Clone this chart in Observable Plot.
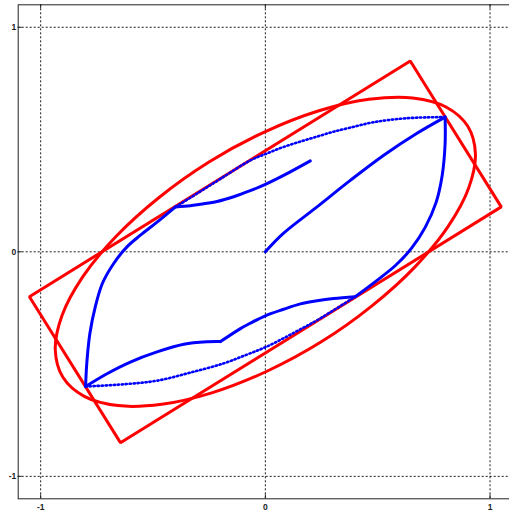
<!DOCTYPE html>
<html>
<head>
<meta charset="utf-8">
<script src="https://cdn.jsdelivr.net/npm/d3@7"></script>
<script src="https://cdn.jsdelivr.net/npm/@observablehq/plot@0.6"></script>
<style>
  html, body { margin: 0; padding: 0; background: #fff; overflow: hidden; }
  #chart svg { display: block; }
</style>
</head>
<body>
<div id="chart"></div>
<script>
// Tick values
const xTicks = [-1, 0, 1];
const yTicks = [-1, 0, 1];

// Red bounding rectangle (corners)
const rectX = [0.645, 1.05, -0.645, -1.05];
const rectY = [0.85, 0.2, -0.85, -0.2];

// Red enclosing ellipse (points read around the outline)
const ellX = [0.901, 0.806, 0.656, 0.461, 0.235, -0.007, -0.249, -0.473, -0.666, -0.813, -0.905, -0.935,
              -0.901, -0.806, -0.656, -0.461, -0.235, 0.007, 0.249, 0.473, 0.666, 0.813, 0.905, 0.935];
const ellY = [0.559, 0.644, 0.685, 0.679, 0.627, 0.532, 0.401, 0.242, 0.067, -0.112, -0.284, -0.436,
              -0.559, -0.644, -0.685, -0.679, -0.627, -0.532, -0.401, -0.242, -0.067, 0.112, 0.284, 0.436];

// Blue solid curves (each piece between kinks)
const c1X = [0, 0.08, 0.23, 0.378, 0.527, 0.675, 0.8];
const c1Y = [0, 0.082, 0.2, 0.318, 0.43, 0.528, 0.6];

const c2aX = [0.8, 0.8, 0.787, 0.76, 0.712, 0.65, 0.58, 0.5, 0.4];
const c2aY = [0.6, 0.48, 0.34, 0.22, 0.11, 0.015, -0.06, -0.125, -0.2];

const c2bX = [0.4, 0.304, 0.23, 0.156, 0.081, 0, -0.067, -0.111, -0.2];
const c2bY = [-0.2, -0.208, -0.218, -0.232, -0.256, -0.285, -0.318, -0.342, -0.4];

const c2cX = [-0.2, -0.26, -0.363, -0.482, -0.601, -0.705, -0.8];
const c2cY = [-0.4, -0.401, -0.412, -0.446, -0.491, -0.543, -0.6];

const c3aX = [-0.8, -0.795, -0.781, -0.757, -0.725, -0.675, -0.616, -0.556, -0.482, -0.4];
const c3aY = [-0.6, -0.5, -0.364, -0.245, -0.14, -0.052, 0.022, 0.074, 0.132, 0.2];

const c3bX = [-0.4, -0.334, -0.289, -0.215, -0.141, -0.067, 0, 0.081, 0.2];
const c3bY = [0.2, 0.205, 0.212, 0.224, 0.245, 0.272, 0.3, 0.34, 0.405];

// Blue dotted hull arcs
const dUpX = [-0.4, -0.3, -0.2, -0.067, 0.007, 0.081, 0.156, 0.23, 0.304, 0.378, 0.482, 0.631, 0.8];
const dUpY = [0.2, 0.262, 0.325, 0.407, 0.438, 0.467, 0.491, 0.513, 0.535, 0.553, 0.577, 0.595, 0.6];

const dLoX = [-0.8, -0.631, -0.482, -0.334, -0.186, -0.08, 0, 0.081, 0.156, 0.23, 0.4];
const dLoY = [-0.6, -0.59, -0.574, -0.538, -0.497, -0.457, -0.425, -0.385, -0.345, -0.305, -0.2];

const pts = (xs, ys) => xs.map((x, i) => ({x, y: ys[i]}));

const W = 509, H = 515;
const mL = 17.7, mT = 4.3, mB = 16.7, mR = -3;
const frameW = W - mL - mR, frameH = H - mT - mB;

const red = "#ff0000", blue = "#0000ff";
const lw = 3;

const chart = Plot.plot({
  width: W,
  height: H,
  marginLeft: mL,
  marginRight: mR,
  marginTop: mT,
  marginBottom: mB,
  style: {fontFamily: "'Liberation Sans', Arial, sans-serif", background: "#fff", overflow: "visible"},
  x: {domain: [-1.1, 1.1], range: [mL, W - mR]},
  y: {domain: [-1.1, 1.1], range: [H - mB, mT]},
  marks: [
    Plot.gridX(xTicks, {stroke: "#000", strokeOpacity: 0.9, strokeWidth: 1, strokeDasharray: "2,2"}),
    Plot.gridY(yTicks, {stroke: "#000", strokeOpacity: 0.9, strokeWidth: 1, strokeDasharray: "2,2"}),
    Plot.frame({stroke: "#222", strokeWidth: 1}),
    // inward tick marks
    Plot.tickX(xTicks, {x: d => d, stroke: "#222", insetTop: frameH - 4}),
    Plot.tickX(xTicks, {x: d => d, stroke: "#222", insetBottom: frameH - 4}),
    Plot.tickY(yTicks, {y: d => d, stroke: "#222", insetRight: frameW - 4}),
    Plot.axisX(xTicks, {anchor: "bottom", tickSize: 0, tickPadding: 5, fontSize: 8.5, fontWeight: "bold", fill: "#222", tickFormat: d => String(d), label: null}),
    Plot.axisY(yTicks, {anchor: "left", tickSize: 0, tickPadding: 2, fontSize: 8.5, fontWeight: "bold", fill: "#222", tickFormat: d => String(d), label: null}),
    // red rectangle and ellipse
    Plot.line(pts(rectX, rectY), {x: "x", y: "y", curve: "linear-closed", stroke: red, strokeWidth: lw, strokeLinejoin: "miter"}),
    Plot.line(pts(ellX, ellY), {x: "x", y: "y", curve: "catmull-rom-closed", stroke: red, strokeWidth: lw}),
    // blue solid curves
    ...[[c1X, c1Y], [c2aX, c2aY], [c2bX, c2bY], [c2cX, c2cY], [c3aX, c3aY], [c3bX, c3bY]].map(([xs, ys]) =>
      Plot.line(pts(xs, ys), {x: "x", y: "y", curve: "catmull-rom", stroke: blue, strokeWidth: lw, strokeLinecap: "round"})
    ),
    // blue dotted arcs
    Plot.line(pts(dUpX, dUpY), {x: "x", y: "y", curve: "catmull-rom", stroke: blue, strokeWidth: 2.6, strokeDasharray: "1.3,2.7"}),
    Plot.line(pts(dLoX, dLoY), {x: "x", y: "y", curve: "catmull-rom", stroke: blue, strokeWidth: 2.6, strokeDasharray: "1.3,2.7"})
  ]
});

document.getElementById("chart").appendChild(chart);
</script>
</body>
</html>
